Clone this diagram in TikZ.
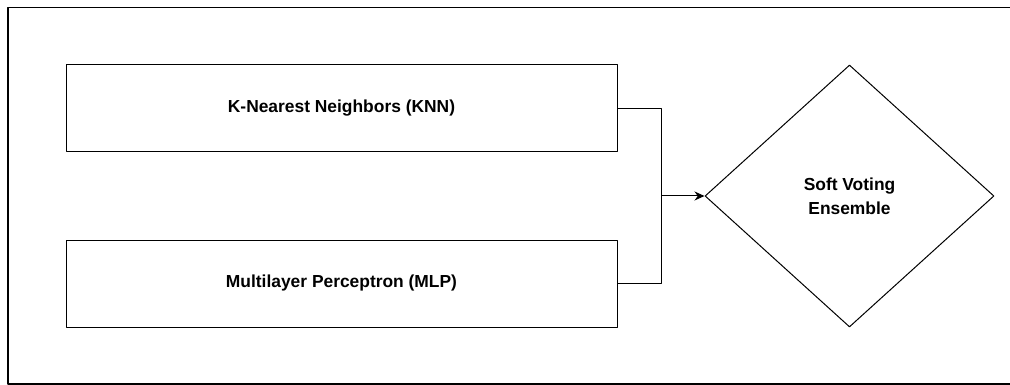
\documentclass[tikz,border=0pt]{standalone}
\usepackage{fontspec}
\setmainfont{Liberation Sans}
\usetikzlibrary{shapes.geometric,arrows.meta}
\begin{document}
\begin{tikzpicture}[x=1pt, y=-1pt, font=\bfseries\fontsize{17.4}{24}\selectfont, line join=round, >={Stealth[length=10pt,width=9pt]}]
	\tikzset{
		model/.style={draw, line width=1pt, minimum width=551pt, minimum height=87pt, inner sep=0pt},
		vote/.style={draw, diamond, line width=1pt, minimum width=289pt, minimum height=262pt, inner sep=0pt, align=center}
	}
	\useasboundingbox (0,0) rectangle (1010,385);
	\draw[line width=1.2pt] (1012,7.5) -- (8,7.5) -- (8,384) -- (1012,384);
	\node[model] (knn) at (341.5,108.5) {K-Nearest Neighbors (KNN)};
	\node[model] (mlp) at (341.5,283.5) {Multilayer Perceptron (MLP)};
	\node[vote] (ens) at (849.5,196) {Soft Voting\\Ensemble};
	\coordinate (join) at (661,196);
	\draw[line width=1pt] (knn.east) -| (join);
	\draw[line width=1pt] (mlp.east) -| (join);
	\draw[line width=1pt, ->] (join) -- (ens.west);
\end{tikzpicture}
\end{document}
